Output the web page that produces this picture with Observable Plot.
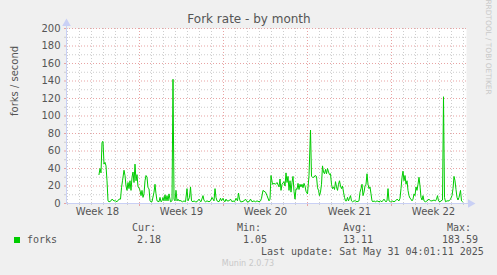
<!DOCTYPE html>
<html><head><meta charset="utf-8">
<script src="https://cdn.jsdelivr.net/npm/d3@7"></script>
<script src="https://cdn.jsdelivr.net/npm/@observablehq/plot@0.6"></script>
<style>
html,body{margin:0;padding:0;background:#f0f0f0;}
#wrap{position:relative;width:497px;height:275px;overflow:hidden;font-family:"DejaVu Sans Mono",monospace;font-size:10px;color:#555;}
#wrap svg{position:absolute;left:0;top:0;}
.t{position:absolute;line-height:12px;white-space:pre;}
</style></head><body><div id="wrap"></div>
<script>
// ---- data (hours since 2025-04-28 22:00 UTC, forks per second, 2h averages) ----
const hours = [65,67,69,71,73,75,77,79,81,83,85,88,91,95,98,101,105,108,110,112,115,117,119,121,123,125,127,129,131,133,135,137,139,141,143,145,147,149,151,153,155,157,159,161,163,165,167,169,171,175,177,179,181,185,187,189,191,193,195,197,199,201,203,205,208,211,213,215,217,219,221,223,225,227,229,232,235,238,241,243,246,248,250,253,255,258,261,265,267,269,273,275,278,281,285,288,291,295,297,299,301,305,308,310,313,315,317,319,321,325,328,331,333,336,339,342,344,346,348,351,355,358,361,365,368,371,375,378,381,385,388,390,393,395,398,401,405,407,409,412,415,418,
421,425,427,429,431,435,437,439,441,443,445,447,449,451,453,455,457,459,461,463,465,467,469,471,473,475,477,479,482,485,488,490,492,495,497,500,502,504,506,508,510,512,514,516,518,520,522,524,526,528,530,532,534,536,538,540,542,544,546,548,550,552,554,556,558,560,562,564,566,568,570,572,575,578,581,585,587,589,591,593,595,597,599,601,603,605,607,609,611,613,615,618,621,625,628,631,635,637,639,641,643,645,648,651,655,658,661,665,667,669,671,673,675,677,679,681,683,685,687,689,691,693,695,697,699,701,703,705,707,709,711,713,715,718,721,725,728,731,735,738,740,742,744,747,749,752,754,756,758,761,765,768,771,773,775,777,779,781,783,785,788,790,792];
const forks = [33,40,35,70,71,45,47,43,26,3,2,2.5,5,3,3,2,5,5,18,26,38,32,20,15,24,17,26,15,30,36,24,45,26,33,19,18,15,9,15,7,11,26,32,30,18,17,3,2,2,13,22,11,3,2,7,2,3,7,3,10,3,9,3,11,2,3,142,5,3,15,3,5,3,3.5,3,2,3,2,17,3,7,19,3,2,3,2,2,5,3,2,9,3.5,2,3,2,3,7,3,17,7,3,2,6,3,6,3,2,5,3,3,5,2,3,2,6,3,12,5,2,2,3,5,2,2,5,2,3,2,3,2,3,6,15,14,13,9,3,5,32,22,23,22,
24,19,28,15,22,25,20,35,24,31,15,26,13,24,31,14,5,17,16,23,16,22,19,22,18,23,20,14,11,32,84,31,30,30,32,31,18,15,9,13,22,43,36,34,39,34,40,36,33,34,22,17,19,16,25,19,15,22,26,20,17,20,13,7,3,3,7,3,6,9,3,2,3,3,2,3,13,17,22,9,13,20,22,34,22,17,19,11,3,2,3,2,3,2,3,2,5,3,2,3,17,3,2,3,2,3,5,3,6,17,30,37,26,32,22,26,15,9,6,5,3,5,11,9,19,15,22,30,20,7,4,9,3,2,3,5,3,3,4,3,5,9,3,2,3,4,122,7,2,3,3,5,9,17,31,26,16,7,4,7,15,3,2];
const yMajor = [20,40,60,80,100,120,140,160,180,200];
const yMinor = [10,30,50,70,90,110,130,150,170,190];
const yTickLabels = [0,20,40,60,80,100,120,140,160,180,200];
const weekLabels = ["Week 18","Week 19","Week 20","Week 21","Week 22"];
const legendHeads = ["Cur:","Min:","Avg:","Max:"];
const legendVals = ["2.18","1.05","13.11","183.59"];
const seriesName = "forks";
const lastUpdate = "Last update: Sat May 31 04:01:11 2025";

const start = new Date(Date.UTC(2025,3,28,22));
const end = new Date(+start + 800*3600e3);
const data = hours.map((h,i)=>({time:new Date(+start + h*3600e3), forks:forks[i]}));
const weekStarts = d3.utcMonday.range(new Date(Date.UTC(2025,3,28)), end);
const weekLines = weekStarts.filter(d => d > start);
const weekCenters = weekStarts.map(d => new Date(+d + 3.5*864e5));
const dayLines = d3.utcDay.range(start, end).filter(d => d.getUTCDay() !== 1);

const grid = "#cdcdcd", mgrid = "#e8a3a3", axisC = "#c9d0f5";

const chart = Plot.plot({
  width: 497, height: 275,
  marginLeft: 66, marginRight: 31, marginTop: 28, marginBottom: 72,
  style: {background:"transparent", fontFamily:"DejaVu Sans", fontSize:"10px", color:"#555", overflow:"visible"},
  x: {type:"utc", domain:[start, end], axis:null},
  y: {domain:[0,200], axis:null},
  marks: [
    Plot.frame({fill:"#fff", stroke:"none"}),
    Plot.ruleY(yMinor, {stroke:grid, strokeDasharray:"1,2"}),
    Plot.ruleX(dayLines, {stroke:grid, strokeDasharray:"1,2"}),
    Plot.ruleY(yMajor, {stroke:mgrid, strokeDasharray:"1,2"}),
    Plot.ruleX(weekLines, {stroke:mgrid, strokeDasharray:"1,2"}),
    Plot.axisY({ticks:yMinor, tickSize:2, tickFormat:()=>"", stroke:grid}),
    Plot.axisY({ticks:yTickLabels, tickSize:2, tickPadding:4, stroke:mgrid, fill:"#555", fontSize:10, label:null}),
    Plot.axisX({ticks:dayLines, tickSize:2, tickFormat:()=>"", stroke:grid}),
    Plot.axisX({ticks:weekLines, tickSize:3, tickFormat:()=>"", stroke:mgrid}),
    Plot.axisX({ticks:weekCenters, tickSize:0, tickPadding:4, fill:"#555", fontSize:10, label:null,
      tickFormat: d => weekLabels[weekCenters.findIndex(c => +c === +d)]}),
    Plot.ruleY([0], {stroke:axisC, insetRight:-4}),
    Plot.ruleX([start], {stroke:axisC, insetTop:-5}),
    Plot.dot([{t:end, v:0}], {x:"t", y:"v", symbol:"triangle", rotate:90, r:3.2, fill:axisC, stroke:"none", dx:4}),
    Plot.dot([{t:start, v:200}], {x:"t", y:"v", symbol:"triangle", r:3.2, fill:axisC, stroke:"none", dy:-5}),
    Plot.line(data, {x:"time", y:"forks", stroke:"#00cc00", strokeWidth:1}),
    Plot.text(["forks / second"], {frameAnchor:"left", rotate:-90, dx:-52, fontSize:10, fill:"#555"}),
    Plot.text(["Fork rate - by month"], {frameAnchor:"top", lineAnchor:"middle", dy:-9, dx:-17.5, fontSize:12, fill:"#555"})
  ]
});
const wrap = document.getElementById("wrap");
wrap.appendChild(chart);

function addText(txt, left, cy, extra) {
  const s = document.createElement("span");
  s.className = "t"; s.textContent = txt;
  s.style.left = left + "px"; s.style.top = (cy - 6) + "px";
  if (extra) Object.assign(s.style, extra);
  wrap.appendChild(s);
  return s;
}
const headX = [132, 237, 343, 447];
const valX = [137, 243, 343, 442];
legendHeads.forEach((h,i)=>addText(h, headX[i], 228));
legendVals.forEach((v,i)=>addText(v, valX[i], 240));
addText(seriesName, 27, 240);
const sq = document.createElement("div");
Object.assign(sq.style, {position:"absolute", left:"14px", top:"237px", width:"6px", height:"6px", background:"#00cc00"});
wrap.appendChild(sq);
addText(lastUpdate, 261, 252);
addText("Munin 2.0.73", 248, 264, {fontFamily:"DejaVu Sans", fontSize:"8px", color:"#c8c8c8", transform:"translateX(-50%)"});
addText("RRDTOOL / TOBI OETIKER", 488, 53, {fontFamily:"DejaVu Sans", fontSize:"7.4px", color:"#c8c8c8", transform:"translate(-50%,-50%) rotate(90deg)", transformOrigin:"50% 50%"});
</script></body></html>
